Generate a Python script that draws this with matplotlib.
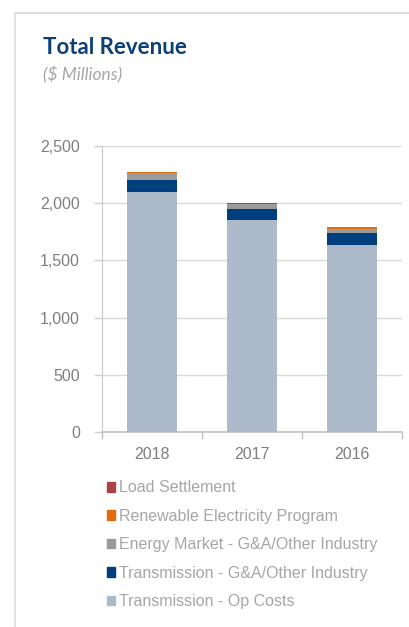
import matplotlib.pyplot as plt
from matplotlib.patches import Patch
from matplotlib.lines import Line2D

years = ["2018", "2017", "2016"]
op_costs = [2098, 1853, 1637]
trans_ga = [105, 96, 99]
energy_ga = [64, 44, 41]
renewable = [4, 5, 13]
load_settlement = [1, 1, 1]

series_names = ["Transmission - Op Costs", "Transmission - G&A/Other Industry",
                "Energy Market - G&A/Other Industry", "Renewable Electricity Program",
                "Load Settlement"]
series_values = [op_costs, trans_ga, energy_ga, renewable, load_settlement]
colors = ["#adbac9", "#003f7d", "#9b9b9b", "#e36c0a", "#a94442"]

plt.rcParams["font.family"] = ["Liberation Sans", "DejaVu Sans"]
fig = plt.figure(figsize=(4.09, 6.27), dpi=100)
ax = fig.add_axes([0.2494, 0.311, 0.7336, 0.456])

x = range(len(years))
bottom = [0] * len(years)
for name, vals, c in zip(series_names, series_values, colors):
    ax.bar(x, vals, width=0.5, bottom=bottom, color=c, label=name, zorder=3)
    bottom = [b + v for b, v in zip(bottom, vals)]

ax.set_xlim(-0.5, 2.5)
ax.set_ylim(0, 2500)
ax.set_yticks(range(0, 2501, 500))
ax.set_yticklabels([f"{v:,}" for v in range(0, 2501, 500)])
ax.set_xticks(list(x))
ax.set_xticklabels(years)
ax.set_xticks([-0.5, 0.5, 1.5, 2.5], minor=True)
ax.tick_params(axis="x", which="major", length=0, pad=11, labelsize=11.5, labelcolor="#7f7f7f")
ax.tick_params(axis="x", which="minor", length=5, color="#bfbfbf", width=1)
ax.tick_params(axis="y", length=6, color="#d0d0d0", width=1, pad=10, labelsize=11.5, labelcolor="#7f7f7f")
ax.grid(axis="y", color="#d9d9d9", linewidth=1, zorder=0)
for s in ["top", "right"]:
    ax.spines[s].set_visible(False)
ax.spines["left"].set_color("#c8c8c8")
ax.spines["bottom"].set_color("#bfbfbf")
ax.spines["bottom"].set_linewidth(1.2)

# frame around the panel
fig.add_artist(Line2D([0.0355, 1.0], [0.9785, 0.9785], transform=fig.transFigure, color="#dcdcdc", lw=1.5))
fig.add_artist(Line2D([0.0355, 0.0355], [0.0, 0.9785], transform=fig.transFigure, color="#e2e2e2", lw=1.5))

fig.text(0.105, 0.924, "Total Revenue", fontsize=16, fontweight="bold", color="#0b3f78",
         family=["Lato", "DejaVu Sans"], va="center")
fig.text(0.105, 0.881, "($ Millions)", fontsize=12.5, style="italic", color="#a6a6a6",
         family=["Lato", "DejaVu Sans"], va="center")

handles = [Patch(color=c) for c in colors][::-1]
labels = series_names[::-1]
leg = fig.legend(handles, labels, loc="upper left", bbox_to_anchor=(0.245, 0.244),
                 frameon=False, fontsize=11.5, handlelength=0.55, handleheight=0.55,
                 handletextpad=0.25, labelspacing=0.84, borderaxespad=0)
for t in leg.get_texts():
    t.set_color("#a6a6a6")

plt.savefig("out.png", dpi=100)
plt.close()
